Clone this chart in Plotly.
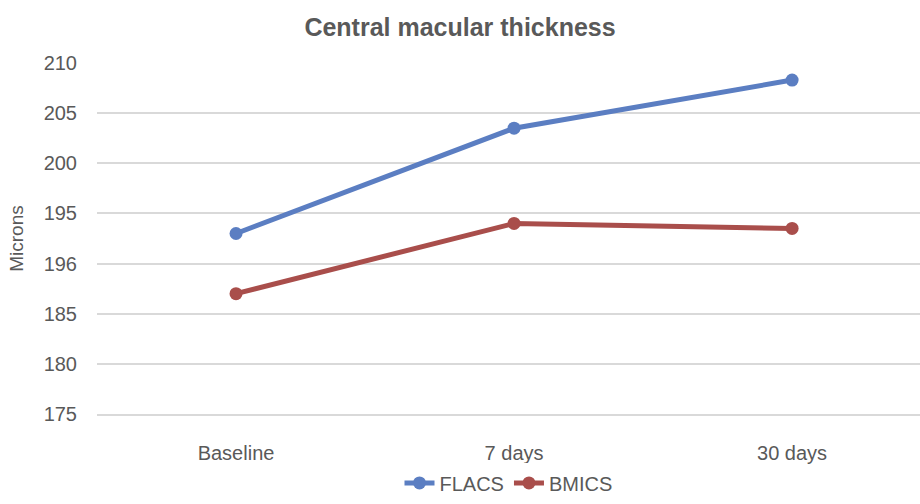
import plotly.graph_objects as go

FONT = "Liberation Sans, Arial, sans-serif"
TEXT = "#595959"
GRID = "#d9d9d9"

categories = ["Baseline", "7 days", "30 days"]
flacs = [193.0, 203.5, 208.3]
bmics = [187.0, 194.0, 193.5]

y_tickvals = [175, 180, 185, 190, 195, 200, 205, 210]
y_ticktext = ["175", "180", "185", "196", "195", "200", "205", "210"]

SERIES = [
    ("FLACS", flacs, "#5b7ec2"),
    ("BMICS", bmics, "#a94e4b"),
]

fig = go.Figure()
for name, vals, color in SERIES:
    fig.add_trace(go.Scatter(
        x=list(range(len(categories))), y=vals, name=name, mode="lines+markers",
        line=dict(color=color, width=5),
        marker=dict(color=color, size=13),
    ))

fig.update_layout(
    width=920, height=504,
    paper_bgcolor="white", plot_bgcolor="white",
    font=dict(family=FONT, color=TEXT, size=20),
    title=dict(text="<b>Central macular thickness</b>", x=0.5, xanchor="center",
               y=0.945, yanchor="middle", font=dict(size=25, color=TEXT)),
    margin=dict(t=63, b=90, l=97, r=0),
    # keep the legend inside the bottom margin so it doesn't push the plot up
    legend=dict(orientation="h", x=0.5, xanchor="center", y=-0.252,
                yanchor="bottom", font=dict(size=20, color=TEXT)),
    xaxis=dict(
        range=[-0.5, 2.46], tickmode="array",
        tickvals=list(range(len(categories))), ticktext=categories,
        showgrid=False, zeroline=False,
        showline=True, linecolor=GRID, linewidth=1.5,  # bottom gridline at 175
        ticklabelstandoff=20, tickfont=dict(size=20, color=TEXT),
    ),
    yaxis=dict(
        range=[175, 210], tickmode="array", tickvals=y_tickvals, ticktext=y_ticktext,
        gridcolor=GRID, gridwidth=1.5, zeroline=False, showline=False,
        ticklabelstandoff=19, tickfont=dict(size=20, color=TEXT),
        title=dict(text="Microns", standoff=14, font=dict(size=19, color=TEXT)),
    ),
)

# drop the default body margin so the figure sits at the window's top-left
fig.write_html("out.html", config={"displayModeBar": False},
               post_script="document.body.style.margin='0';")
